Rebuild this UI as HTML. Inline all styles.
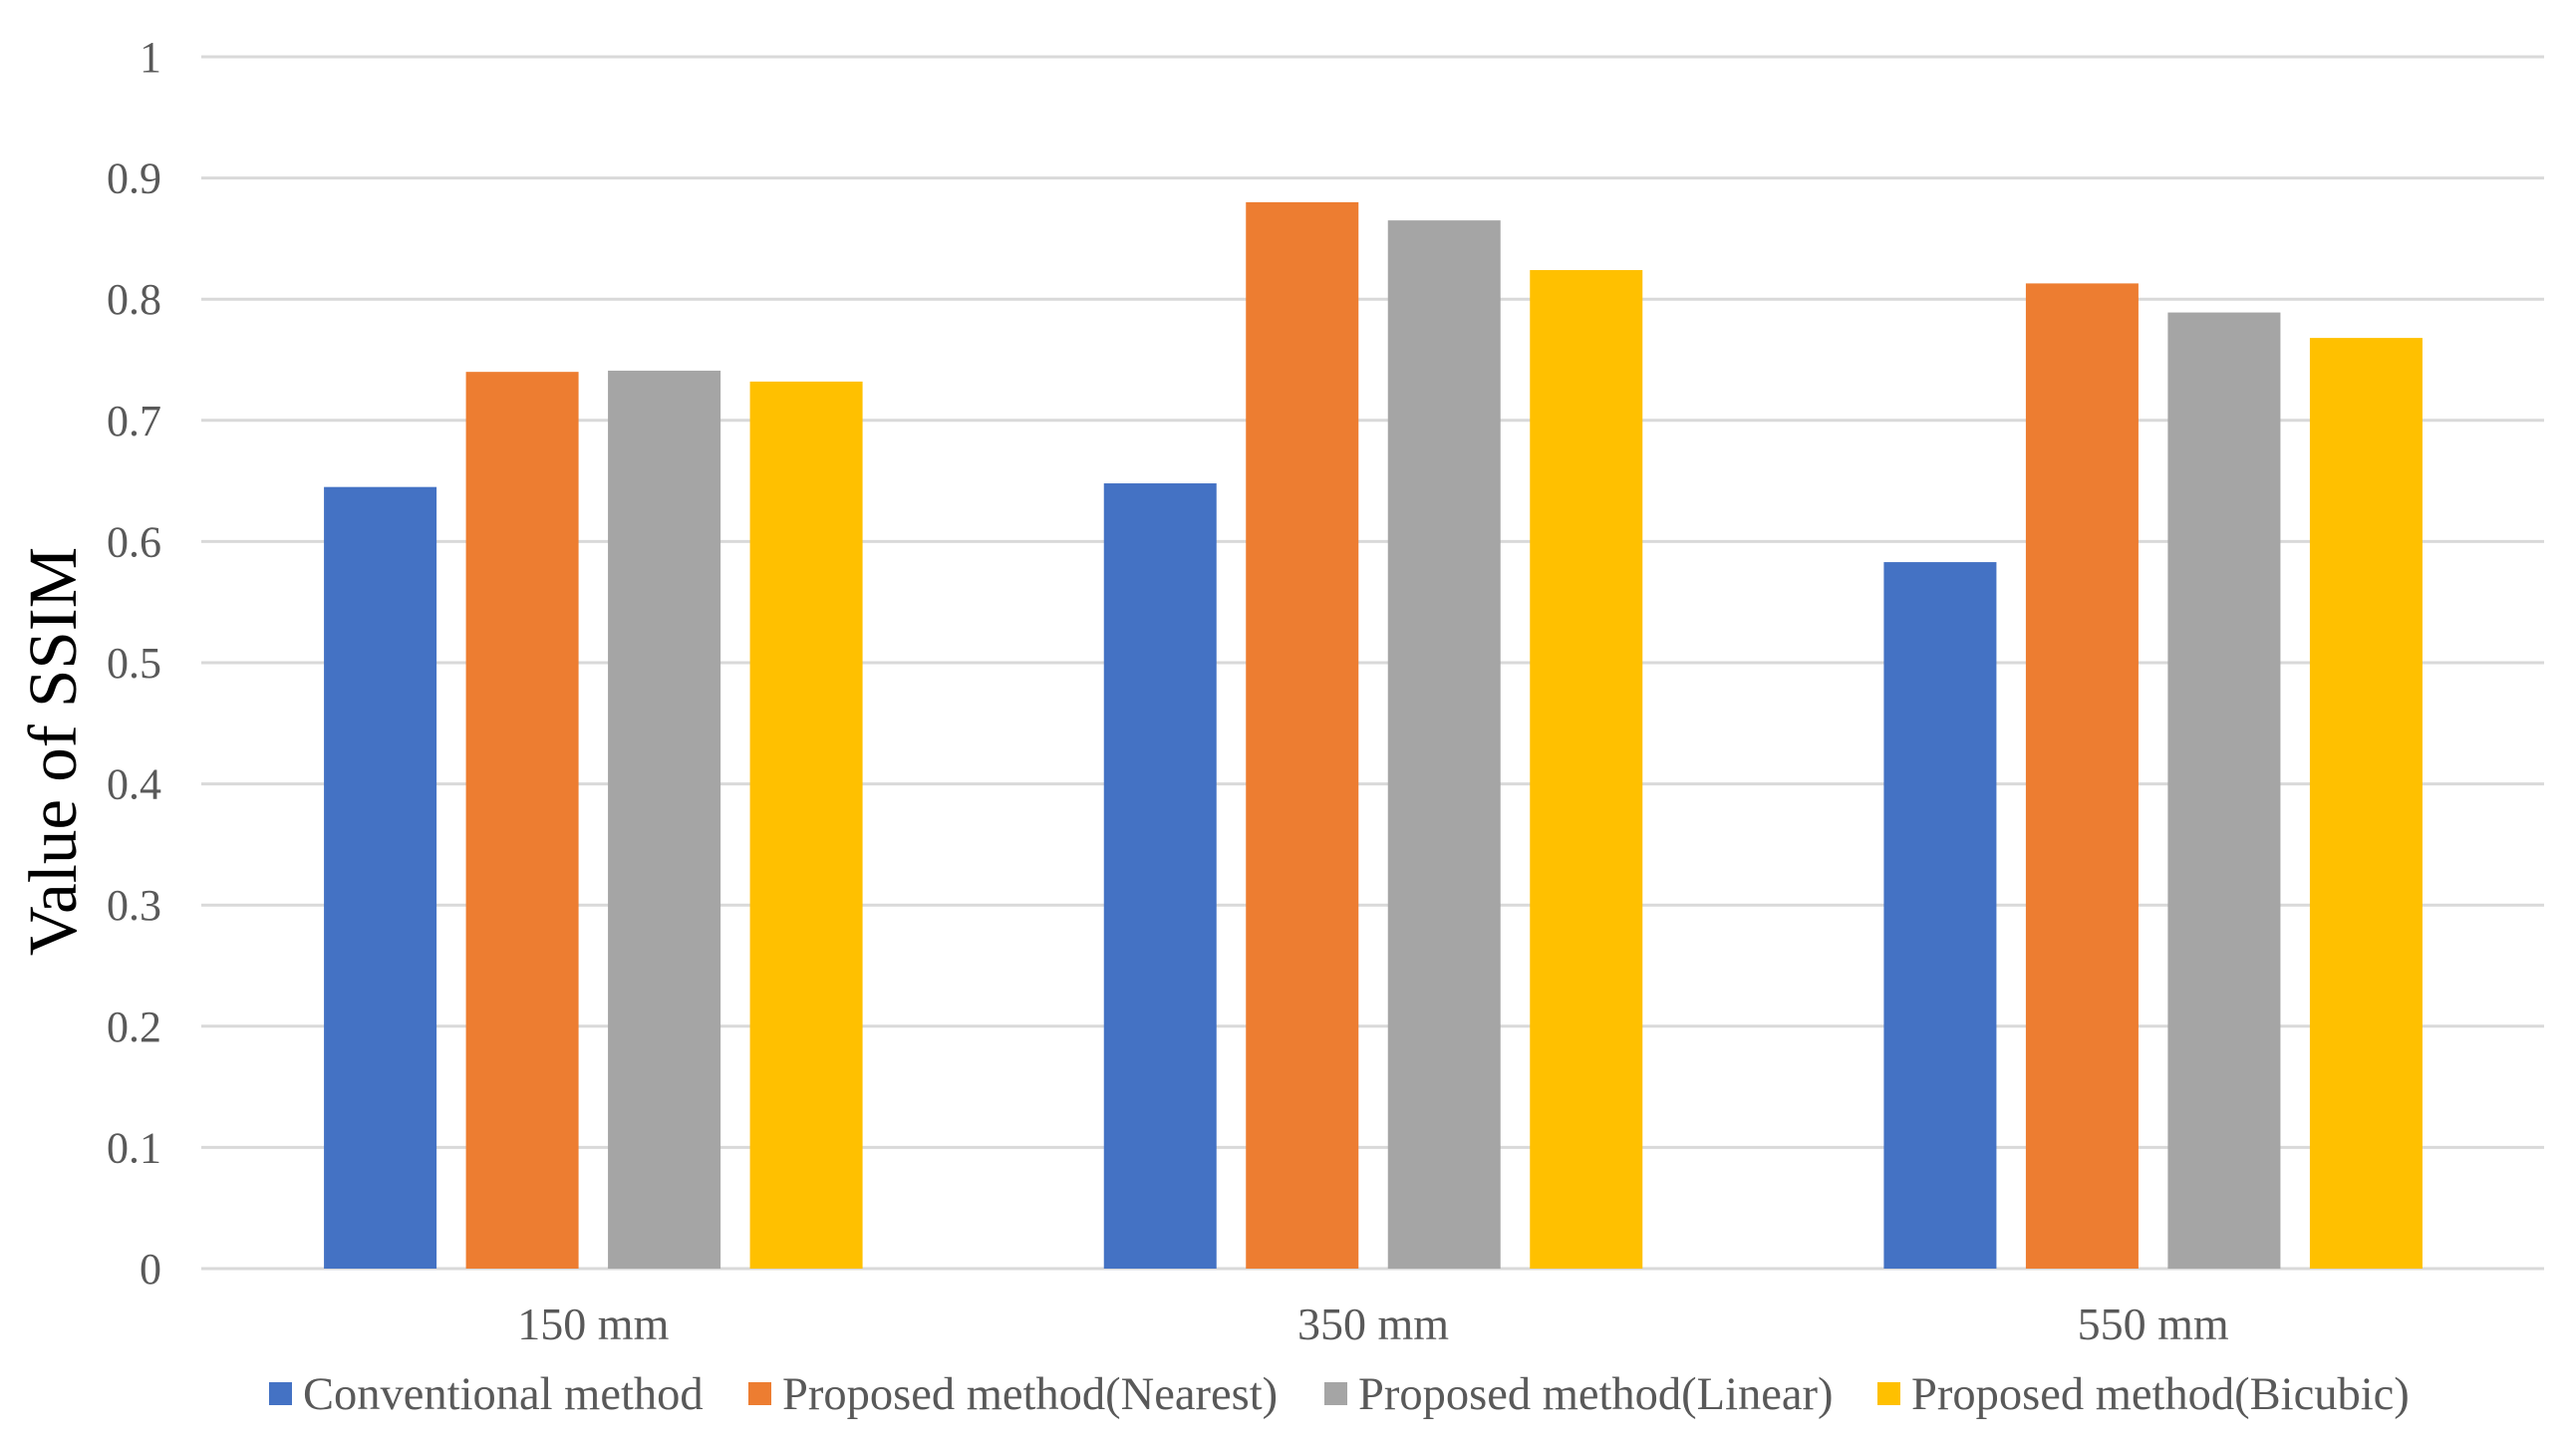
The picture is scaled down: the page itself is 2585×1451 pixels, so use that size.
<!DOCTYPE html>
<html><head><meta charset="utf-8"><style>
html,body{margin:0;padding:0;background:#fff;}
svg{display:block;font-family:"Liberation Serif","Times New Roman",serif;}
</style></head><body>
<svg id="chart" width="2585" height="1451" viewBox="0 0 2585 1451" xmlns="http://www.w3.org/2000/svg">
<rect width="2585" height="1451" fill="#fff"/>
<g id="grid"></g><g id="bars"></g><g id="labels"></g><g id="legend"></g>
<text x="0" y="0" transform="translate(76,754) rotate(-90)" text-anchor="middle" font-size="69" fill="#000">Value of SSIM</text>
</svg>
<script>
const categories = ["150 mm", "350 mm", "550 mm"];
const seriesNames = ["Conventional method", "Proposed method(Nearest)", "Proposed method(Linear)", "Proposed method(Bicubic)"];
const conventional = [0.645, 0.648, 0.583];
const nearest = [0.740, 0.880, 0.813];
const linear = [0.741, 0.865, 0.789];
const bicubic = [0.732, 0.824, 0.768];
const yTicks = [0, 0.1, 0.2, 0.3, 0.4, 0.5, 0.6, 0.7, 0.8, 0.9, 1];
const yTickLabels = ["0", "0.1", "0.2", "0.3", "0.4", "0.5", "0.6", "0.7", "0.8", "0.9", "1"];

const series = [conventional, nearest, linear, bicubic];
const colors = ["#4472C4", "#ED7D31", "#A5A5A5", "#FFC000"];
const NS = "http://www.w3.org/2000/svg";
const plotL = 204, plotR = 2552, gridR = 2553, gridL = 202, plotT = 57, plotB = 1273;
const yMin = 0, yMax = 1;
function yScale(v){ return plotB - (v - yMin) / (yMax - yMin) * (plotB - plotT); }
const catW = (plotR - plotL) / categories.length;
function xCenter(i){ return plotL + catW * (i + 0.5); }
const barW = 113, barStep = 142.5;
function mk(tag, attrs, parent){ const e = document.createElementNS(NS, tag); for (const k in attrs) e.setAttribute(k, attrs[k]); parent.appendChild(e); return e; }

const grid = document.getElementById('grid');
const labels = document.getElementById('labels');
yTicks.forEach((t, i) => {
  const y = yScale(t);
  const ln = mk('line', {x1: gridL, x2: gridR, y1: y, y2: y, stroke: '#d9d9d9', 'stroke-width': 3}, grid);
  
  
  const tx = mk('text', {x: 162, y: y + 15, 'text-anchor': 'end', 'font-size': 44, fill: '#595959'}, labels);
  tx.textContent = yTickLabels[i];
  
  
});

const bars = document.getElementById('bars');
categories.forEach((c, ci) => {
  const cx = xCenter(ci);
  series.forEach((s, si) => {
    const x = cx + (si - 1.5) * barStep - barW / 2;
    const y = yScale(s[ci]);
    const r = mk('rect', {x: x, y: y, width: barW, height: yScale(0) - y, fill: colors[si]}, bars);
    
    
  });
  const tx = mk('text', {x: cx, y: 1344, 'text-anchor': 'middle', 'font-size': 46, fill: '#595959'}, labels);
  tx.textContent = c;
  
  
});

const legend = document.getElementById('legend');
const legendX = [270, 751, 1329, 1884];
seriesNames.forEach((n, i) => {
  const g = mk('g', {}, legend);
  
  
  mk('rect', {x: legendX[i], y: 1387, width: 23, height: 23, fill: colors[i]}, g);
  const t = mk('text', {x: legendX[i] + 34, y: 1414, 'font-size': 46.5, fill: '#595959'}, g);
  t.textContent = n;
});
</script>
</body></html>
